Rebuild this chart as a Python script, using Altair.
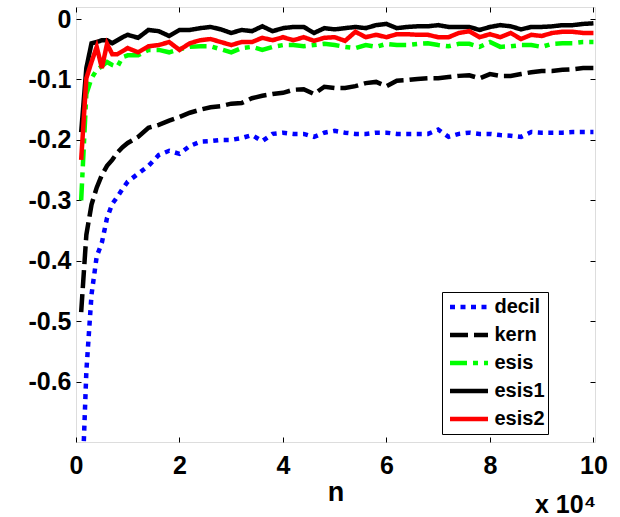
import altair as alt
import pandas as pd

# x positions (units of 10^4)
n = [0.1, 0.2, 0.3, 0.4, 0.5, 0.6, 0.7, 0.8, 0.9, 1.0,
     1.2, 1.4, 1.6, 1.8, 2.0, 2.2, 2.4, 2.6, 2.8, 3.0,
     3.2, 3.4, 3.6, 3.8, 4.0, 4.2, 4.4, 4.6, 4.8, 5.0,
     5.2, 5.4, 5.6, 5.8, 6.0, 6.2, 6.4, 6.6, 6.8, 7.0,
     7.2, 7.4, 7.6, 7.8, 8.0, 8.2, 8.4, 8.6, 8.8, 9.0,
     9.2, 9.4, 9.6, 9.8, 10.0]

decil = [-0.82, -0.583, -0.456, -0.393, -0.370, -0.329, -0.306, -0.294, -0.281, -0.269,
         -0.256, -0.243, -0.225, -0.218, -0.223, -0.210, -0.203, -0.202, -0.200, -0.200,
         -0.197, -0.192, -0.202, -0.190, -0.188, -0.190, -0.190, -0.195, -0.188, -0.185,
         -0.188, -0.190, -0.190, -0.188, -0.188, -0.190, -0.190, -0.190, -0.190, -0.183,
         -0.195, -0.190, -0.188, -0.190, -0.190, -0.192, -0.193, -0.195, -0.187, -0.188,
         -0.188, -0.188, -0.187, -0.187, -0.187]

kern = [-0.485, -0.357, -0.307, -0.279, -0.258, -0.243, -0.233, -0.221, -0.212, -0.205,
        -0.195, -0.180, -0.175, -0.168, -0.162, -0.155, -0.150, -0.146, -0.144, -0.140,
        -0.139, -0.131, -0.127, -0.124, -0.122, -0.117, -0.116, -0.124, -0.112, -0.114,
        -0.114, -0.111, -0.106, -0.104, -0.111, -0.102, -0.101, -0.099, -0.098, -0.098,
        -0.096, -0.094, -0.093, -0.098, -0.091, -0.094, -0.094, -0.091, -0.088, -0.086,
        -0.086, -0.084, -0.083, -0.081, -0.081]

esis = [-0.300, -0.124, -0.098, -0.084, -0.078, -0.071, -0.076, -0.079, -0.063, -0.060,
        -0.060, -0.051, -0.051, -0.055, -0.050, -0.046, -0.045, -0.045, -0.050, -0.055,
        -0.048, -0.046, -0.051, -0.046, -0.043, -0.043, -0.045, -0.043, -0.041, -0.043,
        -0.046, -0.048, -0.043, -0.046, -0.041, -0.043, -0.043, -0.041, -0.040, -0.043,
        -0.045, -0.041, -0.041, -0.046, -0.038, -0.046, -0.045, -0.043, -0.043, -0.046,
        -0.041, -0.040, -0.040, -0.038, -0.038]

esis1 = [-0.187, -0.081, -0.040, -0.038, -0.035, -0.035, -0.040, -0.035, -0.030, -0.026,
         -0.031, -0.018, -0.020, -0.028, -0.018, -0.018, -0.015, -0.013, -0.017, -0.023,
         -0.018, -0.020, -0.012, -0.020, -0.015, -0.013, -0.013, -0.023, -0.015, -0.017,
         -0.015, -0.013, -0.015, -0.010, -0.008, -0.015, -0.013, -0.012, -0.012, -0.010,
         -0.013, -0.013, -0.013, -0.018, -0.013, -0.010, -0.012, -0.017, -0.013, -0.013,
         -0.012, -0.010, -0.010, -0.008, -0.007]

esis2 = [-0.233, -0.098, -0.071, -0.046, -0.081, -0.041, -0.058, -0.058, -0.053, -0.048,
         -0.055, -0.045, -0.043, -0.038, -0.051, -0.040, -0.035, -0.033, -0.038, -0.043,
         -0.038, -0.038, -0.031, -0.035, -0.030, -0.035, -0.030, -0.036, -0.031, -0.030,
         -0.036, -0.021, -0.030, -0.026, -0.030, -0.025, -0.025, -0.026, -0.026, -0.030,
         -0.030, -0.023, -0.020, -0.030, -0.025, -0.030, -0.023, -0.033, -0.026, -0.028,
         -0.023, -0.021, -0.021, -0.023, -0.023]

names = ["decil", "kern", "esis", "esis1", "esis2"]
colors = ["#0000ff", "#000000", "#00ff00", "#000000", "#ff0000"]
dashes = [[5, 5.5], [18, 6], [17, 6, 5, 6], [1, 0], [1, 0]]

x_ticks = [0, 2, 4, 6, 8, 10]
y_ticks = [-0.6, -0.5, -0.4, -0.3, -0.2, -0.1, 0]

rows = []
for name, vals in zip(names, [decil, kern, esis, esis1, esis2]):
    for xv, yv in zip(n, vals):
        rows.append({"n": xv, "val": yv, "series": name})
df = pd.DataFrame(rows)

FONT = "Liberation Sans"
W, H = 519, 435

legend = alt.Legend(
    title=None, orient="none", legendX=366, legendY=285,
    symbolType="stroke", symbolSize=1444, symbolStrokeWidth=4.5,
    clipHeight=24, rowPadding=4, padding=3, symbolOffset=2.5, labelOffset=4,
    labelFont=FONT, labelFontSize=20, labelFontWeight="bold", labelColor="black",
    strokeColor="black", fillColor="white", labelLimit=0,
)

label_style = dict(labelFont=FONT, labelFontSize=25, labelFontWeight="bold",
                   labelColor="black", labelFlush=False, labelOverlap=False,
                   domain=False, ticks=False, tickSize=0)

chart = alt.Chart(df).mark_line(strokeWidth=4.5, clip=True).encode(
    x=alt.X("n:Q",
            scale=alt.Scale(domain=[0, 10.03], nice=False, zero=False),
            axis=alt.Axis(values=x_ticks, title="n", labelExpr="format(datum.value, 'd')",
                          labelPadding=11, titleY=58, titleBaseline="alphabetic",
                          titleFont=FONT, titleFontSize=27, titleFontWeight="bold",
                          titleColor="black",
                          grid=True, gridDash=[5, H - 10], gridColor="black",
                          gridWidth=1, gridOpacity=1, **label_style)),
    y=alt.Y("val:Q",
            scale=alt.Scale(domain=[-0.7, 0.02], nice=False, zero=False),
            axis=alt.Axis(values=y_ticks, title=None,
                          labelExpr="datum.value == 0 ? '0' : '-' + format(abs(datum.value), '.1f')",
                          labelPadding=5,
                          grid=True, gridDash=[5, W - 10], gridColor="black",
                          gridWidth=1, gridOpacity=1, **label_style)),
    color=alt.Color("series:N", scale=alt.Scale(domain=names, range=colors), legend=legend),
    strokeDash=alt.StrokeDash("series:N", scale=alt.Scale(domain=names, range=dashes), legend=legend),
).properties(
    width=W, height=H,
    autosize=alt.AutoSizeParams(type="none"),
    padding={"left": 76, "top": 7, "right": 25, "bottom": 75},
    title=alt.TitleParams(text="x 10\u2074", orient="bottom", anchor="end", frame="group",
                          font=FONT, fontSize=25, fontWeight="bold", color="black",
                          baseline="alphabetic", offset=7, dx=1, dy=1),
).configure_view(
    stroke="black", strokeWidth=2,
).configure(background="white")

chart.save("out.html", embed_options={"renderer": "svg", "actions": False})
